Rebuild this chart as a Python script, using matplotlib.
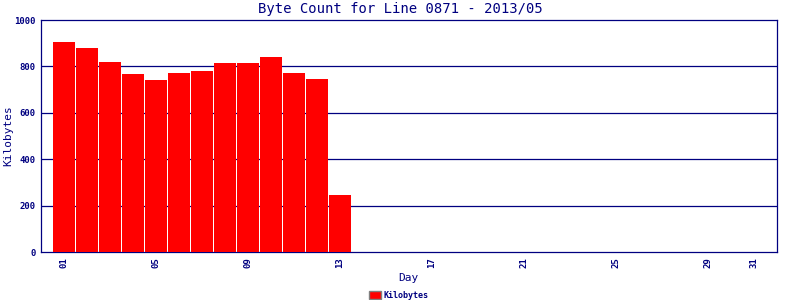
import matplotlib
matplotlib.use("Agg")
import matplotlib.pyplot as plt
from matplotlib.patches import Rectangle

days = list(range(1, 14))
kilobytes = [905, 879, 819, 767, 741, 772, 780, 815, 815, 841, 772, 746, 246]
xtick_days = [1, 5, 9, 13, 17, 21, 25, 29, 31]
xtick_labels = ["01", "05", "09", "13", "17", "21", "25", "29", "31"]
yticks = [0, 200, 400, 600, 800, 1000]

navy = "#000080"
mono = ["DejaVu Sans Mono"]

fig = plt.figure(figsize=(8, 3), dpi=100)
ax = fig.add_axes([41/800, 1-252/300, 736/800, 232/300])
ax.bar(days, kilobytes, width=22/23, color="#ff0000", linewidth=0, zorder=3)
ax.set_xlim(0, 32)
ax.set_ylim(0, 1000)
ax.set_yticks(yticks)
ax.set_yticklabels([str(v) for v in yticks], fontsize=6.5, fontweight="bold",
                   color=navy, family=mono)
ax.set_xticks(xtick_days)
ax.set_xticklabels(xtick_labels, rotation=90, fontsize=6.5, fontweight="bold",
                   color=navy, family=mono)
ax.tick_params(length=0, pad=4)
for s in ax.spines.values():
    s.set_color(navy)
    s.set_linewidth(0.9)
for v in yticks[1:-1]:
    ax.axhline(v, color=navy, linewidth=0.9, zorder=1)

fig.text(0.5, 1-9/300, "Byte Count for Line 0871 - 2013/05", ha="center", va="center",
         fontsize=10, color=navy, family=mono)
fig.text(8/800, 1-136/300, "Kilobytes", rotation=90, ha="center", va="center",
         fontsize=8, color=navy, family=mono)
fig.text(408/800, 1-278/300, "Day", ha="center", va="center",
         fontsize=8, color=navy, family=mono)
fig.patches.append(Rectangle((369/800, 1-299/300), 12/800, 8/300, transform=fig.transFigure,
                             facecolor="#ff0000", edgecolor="#808080", linewidth=1))
fig.text(384/800, 1-295/300, "Kilobytes", ha="left", va="center",
         fontsize=6, fontweight="bold", color=navy, family=mono)

fig.savefig("out.png", dpi=100)
